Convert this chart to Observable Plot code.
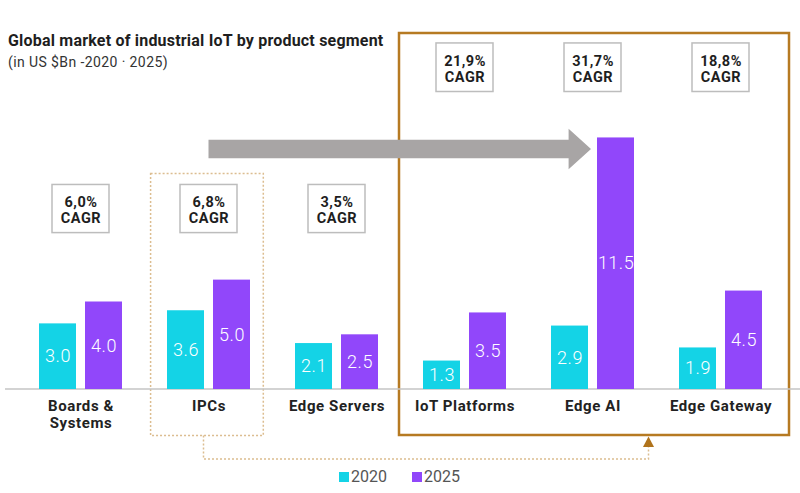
<!DOCTYPE html>
<html>
<head>
<meta charset="utf-8">
<script src="https://cdn.jsdelivr.net/npm/d3@7"></script>
<script src="https://cdn.jsdelivr.net/npm/@observablehq/plot@0.6"></script>
<style>
  html, body { margin: 0; padding: 0; background: #fff; }
  #wrap { position: relative; width: 800px; height: 493px; overflow: hidden; font-family: Roboto, "Noto Sans", sans-serif; }
  #chart { position: absolute; left: 0; top: 0; }
  #title { position: absolute; left: 8px; top: 32px; font-size: 16px; line-height: 18px; font-weight: 700; letter-spacing: 0.2px; color: #1e1e1e; white-space: nowrap; }
  #subtitle { position: absolute; left: 8px; top: 54px; font-size: 14px; line-height: 16px; font-weight: 400; letter-spacing: 0.4px; color: #333; white-space: nowrap; }
  #legend { position: absolute; left: 339px; top: 467px; display: flex; align-items: center; font-size: 16px; line-height: 20px; color: #555; }
  #legend .item { display: flex; align-items: center; margin-right: 25px; }
  #legend .sw { width: 10px; height: 10px; margin-right: 2px; }
</style>
</head>
<body>
<div id="wrap">
  <div id="chart"></div>
  <div id="title"></div>
  <div id="subtitle"></div>
  <div id="legend"></div>
</div>
<script>
// ---- data ----
const titleText = "Global market of industrial IoT by product segment";
const subtitleText = "(in US $Bn -2020 · 2025)";
const segments = ["Boards & Systems", "IPCs", "Edge Servers", "IoT Platforms", "Edge AI", "Edge Gateway"];
const tickLabels = ["Boards &\nSystems", "IPCs", "Edge Servers", "IoT Platforms", "Edge AI", "Edge Gateway"];
const years = ["2020", "2025"];
const values2020 = [3.0, 3.6, 2.1, 1.3, 2.9, 1.9];
const values2025 = [4.0, 5.0, 2.5, 3.5, 11.5, 4.5];
const cagr = ["6,0%", "6,8%", "3,5%", "21,9%", "31,7%", "18,8%"];
const colors = ["#14d3e6", "#9147fa"];

// ---- tables built from the arrays ----
const rows = segments.flatMap((s, i) => [
  {segment: s, year: years[0], value: values2020[i]},
  {segment: s, year: years[1], value: values2025[i]}
]);
// CAGR box placement (layout, in y-scale units): lower row for the first three, upper row for the rest
const boxes = segments.map((s, i) => ({
  segment: s,
  text: cagr[i] + "\nCAGR",
  y1: i < 3 ? 7.15 : 13.6,
  y2: i < 3 ? 9.35 : 15.82
}));
const labels = segments.map((s, i) => ({segment: s, label: tickLabels[i]}));

const plot = Plot.plot({
  width: 800,
  height: 493,
  marginTop: 39,
  marginBottom: 104,
  marginLeft: 37,
  marginRight: 37,
  style: {fontFamily: "Roboto, 'Noto Sans', sans-serif", background: "transparent"},
  fx: {domain: segments, paddingInner: 0.355, paddingOuter: 0, axis: null, label: null},
  x: {domain: years, paddingInner: 0.2, paddingOuter: 0, axis: null, label: null},
  y: {domain: [0, 16], axis: null, label: null},
  color: {domain: years, range: colors},
  marks: [
    Plot.barY(rows, {fx: "segment", x: "year", y: "value", fill: "year"}),
    Plot.text(rows, {
      fx: "segment", x: "year", y: d => d.value / 2,
      text: d => d.value.toFixed(1),
      fill: "white", fontSize: 18, fontWeight: 300
    }),
    Plot.barY(boxes, {
      fx: "segment", y1: "y1", y2: "y2",
      fill: "white", stroke: "#bdbdbd", strokeWidth: 1.5,
      insetLeft: 13, insetRight: 13
    }),
    Plot.text(boxes, {
      fx: "segment", y: d => (d.y1 + d.y2) / 2, dy: 1,
      text: "text", fontSize: 14.5, fontWeight: 700, fill: "#1e1e1e", lineHeight: 1.12
    }),
    Plot.text(labels, {
      fx: "segment", frameAnchor: "bottom", lineAnchor: "top", dy: 10,
      text: "label", fontSize: 15, fontWeight: 700, fill: "#222", lineHeight: 1.12
    })
  ]
});

document.getElementById("chart").appendChild(plot);

// letter spacing for the text marks
const textGroups = d3.select(plot).selectAll('g[aria-label="text"]').nodes();
d3.select(textGroups[0]).style("letter-spacing", "0.5px");
d3.select(textGroups[1]).style("letter-spacing", "0.5px");
d3.select(textGroups[2]).style("letter-spacing", "0.6px");

// ---- decorations positioned from the library's scales ----
const fxS = plot.scale("fx");
const xS = plot.scale("x");
const yS = plot.scale("y");
const bw = fxS.bandwidth;
const band = s => fxS.apply(s);
const y0 = yS.apply(0);
const x2025 = xS.apply("2025") - xS.apply("2020");

const deco = d3.select(plot).insert("g", ":first-child").attr("class", "deco");

// right-hand highlight frame
const frameL = band("IoT Platforms") - 24;
const frameR = band("Edge Gateway") + bw + 27;
const frameT = yS.apply(16) - 6;
const frameB = y0 + 46;
deco.append("rect")
  .attr("x", frameL).attr("y", frameT)
  .attr("width", frameR - frameL).attr("height", frameB - frameT)
  .attr("fill", "none").attr("stroke", "#b67a22").attr("stroke-width", 2.5);

// dotted IPCs box
const ipcL = band("IPCs") - 16.4;
const ipcR = band("IPCs") + bw + 13.3;
const ipcT = yS.apply(boxes[1].y2) - 11;
const ipcB = y0 + 46.5;
deco.append("rect")
  .attr("x", ipcL).attr("y", ipcT)
  .attr("width", ipcR - ipcL).attr("height", ipcB - ipcT)
  .attr("fill", "none").attr("stroke", "#dcbd90").attr("stroke-width", 1.5)
  .attr("stroke-dasharray", "2,2");

// dotted connector to the frame
const ipcC = band("IPCs") + bw / 2;
const connX = band("Edge AI") + bw + 14.5;
deco.append("path")
  .attr("d", `M${ipcC - 5},${ipcB} V${y0 + 70} H${connX} V${frameB + 11}`)
  .attr("fill", "none").attr("stroke", "#dcbd90").attr("stroke-width", 1.5)
  .attr("stroke-dasharray", "2,2");
deco.append("path")
  .attr("d", `M${connX},${frameB + 1.5} L${connX + 5.5},${frameB + 12} L${connX - 5.5},${frameB + 12} Z`)
  .attr("fill", "#b0731c");

// baseline
deco.append("line")
  .attr("x1", 5).attr("x2", 800).attr("y1", y0).attr("y2", y0)
  .attr("stroke", "#c4c4c4").attr("stroke-width", 1.5);

// big grey arrow from IPCs to Edge AI
const tailX = ipcC;
const tipX = band("Edge AI") + x2025 - 6;
const cy = yS.apply(values2025[4]) + 11.5;
const bh = 9.3, hh = 20.3, hl = 22.4;
deco.append("path")
  .attr("d", `M${tailX},${cy - bh} H${tipX - hl} V${cy - hh} L${tipX},${cy} L${tipX - hl},${cy + hh} V${cy + bh} H${tailX} Z`)
  .attr("fill", "#a8a5a5");

// ---- title & legend ----
document.getElementById("title").textContent = titleText;
document.getElementById("subtitle").textContent = subtitleText;
const legend = d3.select("#legend");
years.forEach((yr, i) => {
  const it = legend.append("div").attr("class", "item");
  it.append("div").attr("class", "sw").style("background", colors[i]);
  it.append("span").text(yr);
});
</script>
</body>
</html>
